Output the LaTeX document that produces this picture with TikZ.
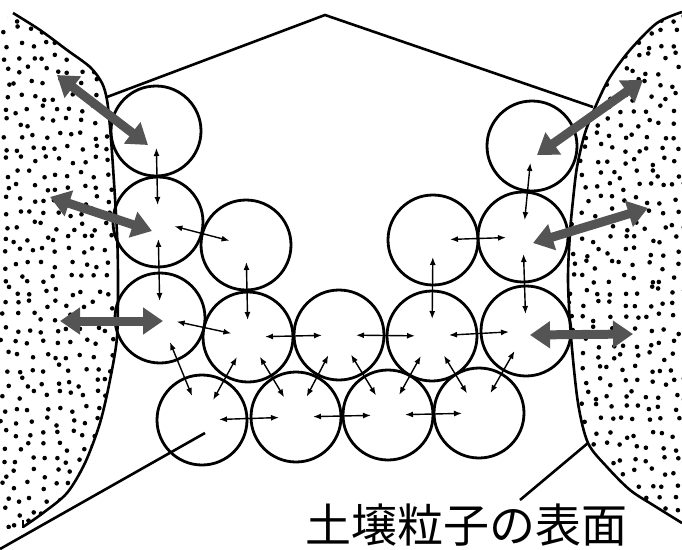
\documentclass[tikz,border=0pt]{standalone}
\usepackage{fontspec}
\newfontfamily\jpfont{Noto Sans CJK JP}
\usetikzlibrary{arrows.meta}
\definecolor{pullgray}{gray}{0.33}
\tikzset{>={Latex[length=8pt,width=6pt]}}
\tikzset{
    grain/.style={draw, circle, line width=2.8pt, minimum size=90pt, inner sep=0pt},
    bond/.style={<->, line width=1.4pt, shorten <=17pt, shorten >=17pt},
    slant/.style={bond, shorten <=23pt, shorten >=23pt},
    pull/.style={{Triangle[length=20pt,width=26pt]}-{Triangle[length=20pt,width=26pt]}, line width=9pt, draw=pullgray},
    rim/.style={line width=2.6pt},
}

\begin{document}
\begin{tikzpicture}[x=1pt, y=-1pt]
    \useasboundingbox (0,0) rectangle (682,549);
    % stippled soil on both sides
    \begin{scope}
        \clip (0,24) -- plot[smooth] coordinates {(13,13) (40,30) (67,50) (90,67) (102,83) (107,100) (110,127) (113,167) (117,233) (118,280) (117,337) (110,380) (100,423) (85,463) (67,493) (43,513) (23,527)} -- (0,530) -- cycle;
        \pgfmathsetseed{11}
        \foreach \x in {5,18,...,125}
            \foreach \y in {5,18,...,540}
                \fill ({\x+4.5*rand},{\y+4.5*rand}) circle (2.3);
    \end{scope}
    \begin{scope}
        \clip plot[smooth] coordinates {(682,12) (657,23) (630,50) (610,77) (597,103) (585,133) (577,167) (573,200) (570,233) (568,280) (571,337) (578,403) (588,443) (607,467) (630,490) (653,505) (682,523)} -- cycle;
        \pgfmathsetseed{23}
        \foreach \x in {558,571,...,690}
            \foreach \y in {5,18,...,540}
                \fill ({\x+4.5*rand},{\y+4.5*rand}) circle (2.3);
    \end{scope}
    \draw[rim] plot[smooth] coordinates {(13,13) (40,30) (67,50) (90,67) (102,83) (107,100) (110,127) (113,167) (117,233) (118,280) (117,337) (110,380) (100,423) (85,463) (67,493) (43,513) (23,527)};
    \draw[rim] (23,520) -- (23,528);
    \draw[rim] plot[smooth] coordinates {(682,12) (657,23) (630,50) (610,77) (597,103) (585,133) (577,167) (573,200) (570,233) (568,280) (571,337) (578,403) (588,443) (607,467) (630,490) (653,505) (682,523)};
    % outline of the pore
    \draw[rim] (107,97) -- (325,15) -- (593,107);
    \draw[rim] (0,549) -- (205,433);

    % water molecules
    \node[grain] (a1) at (156,131) {};
    \node[grain] (a2) at (158,222) {};
    \node[grain] (a3) at (160,318) {};
    \node[grain] (b2) at (246,245) {};
    \node[grain] (b3) at (248,337) {};
    \node[grain] (c3) at (339,335) {};
    \node[grain] (d2) at (433,240) {};
    \node[grain] (d3) at (432,336) {};
    \node[grain] (e1) at (532,146) {};
    \node[grain] (e2) at (523,237) {};
    \node[grain] (e3) at (526,331) {};
    \node[grain] (f1) at (202,420) {};
    \node[grain] (f2) at (296,417) {};
    \node[grain] (f3) at (388,415) {};
    \node[grain] (f4) at (479,413) {};

    % attraction between molecules
    \draw[bond] (a1.center) -- (a2.center);
    \draw[bond] (a2.center) -- (a3.center);
    \draw[bond] (a2.center) -- (b2.center);
    \draw[bond] (b2.center) -- (b3.center);
    \draw[bond] (a3.center) -- (b3.center);
    \draw[bond, shorten <=26pt, shorten >=26pt] (a3.center) -- (f1.center);
    \draw[slant] (b3.center) -- (f1.center);
    \draw[slant] (b3.center) -- (f2.center);
    \draw[bond] (b3.center) -- (c3.center);
    \draw[slant] (c3.center) -- (f2.center);
    \draw[slant] (c3.center) -- (f3.center);
    \draw[bond] (c3.center) -- (d3.center);
    \draw[slant] (d3.center) -- (f3.center);
    \draw[slant] (d3.center) -- (f4.center);
    \draw[bond] (d3.center) -- (e3.center);
    \draw[slant] (e3.center) -- (f4.center);
    \draw[bond] (d2.center) -- (d3.center);
    \draw[bond] (d2.center) -- (e2.center);
    \draw[bond] (e2.center) -- (e3.center);
    \draw[bond] (e1.center) -- (e2.center);
    \draw[bond] (f1.center) -- (f2.center);
    \draw[bond] (f2.center) -- (f3.center);
    \draw[bond] (f3.center) -- (f4.center);

    % attraction towards the soil surface
    \coordinate (l1) at (57,75);   \coordinate (m1) at (148,145);
    \coordinate (l2) at (50,197);  \coordinate (m2) at (152,231);
    \coordinate (l3) at (60,321);  \coordinate (m3) at (163,321);
    \coordinate (r1) at (643,80);  \coordinate (n1) at (537,155);
    \coordinate (r2) at (648,208); \coordinate (n2) at (533,243);
    \coordinate (r3) at (633,334); \coordinate (n3) at (530,335);
    \draw[pull] (l1) -- (m1);
    \draw[pull] (l2) -- (m2);
    \draw[pull] (l3) -- (m3);
    \draw[pull] (r1) -- (n1);
    \draw[pull] (r2) -- (n2);
    \draw[pull] (r3) -- (n3);

    \node[anchor=base west, inner sep=0pt, font=\jpfont\fontsize{46}{46}\selectfont] (surface) at (305,542) {土壌粒子の表面};
    \coordinate (foot) at (520,500);
    \coordinate (tip) at (588,443);
    \draw[rim] (foot) -- (tip);
\end{tikzpicture}
\end{document}
